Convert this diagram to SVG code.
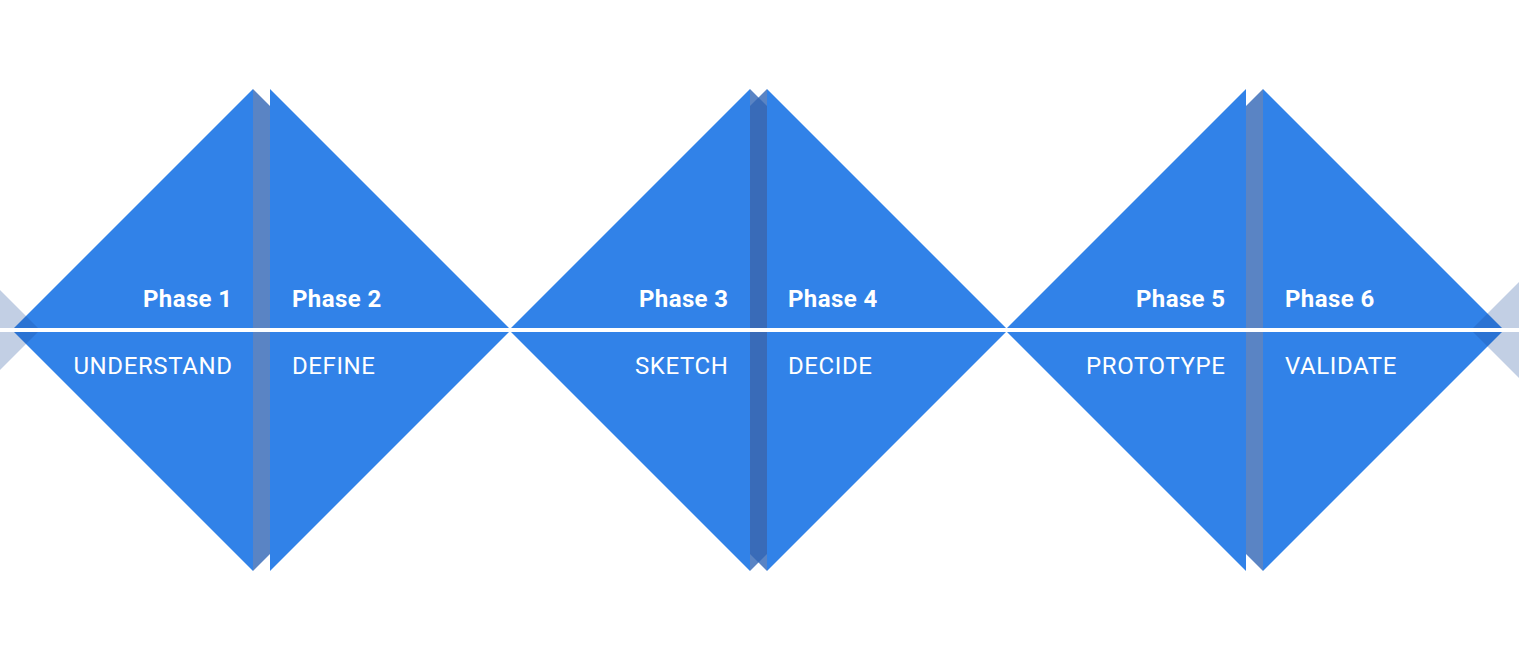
<svg xmlns="http://www.w3.org/2000/svg" width="1519" height="664" viewBox="0 0 1519 664">
  <style>
    .tri { fill: #3182E8; }
    .fold { fill: #3165B5; fill-opacity: 0.8; }
    .ghost { fill: #1F4E9A; fill-opacity: 0.27; }
    .ph { font-family: Roboto, "Liberation Sans", sans-serif; font-weight: 700; font-size: 24px; letter-spacing: 0.4px; fill: #FFFFFF; }
    .nm { font-family: Roboto, "Liberation Sans", sans-serif; font-weight: 400; font-size: 24px; letter-spacing: 0.6px; fill: #FFFFFF; }
    .end { text-anchor: end; }
  </style>
  <rect x="0" y="0" width="1519" height="664" fill="#FFFFFF"/>

  <g id="phase1">
    <polygon class="tri" points="12,330 253,89 253,571"/>
    <text class="ph end" x="232.5" y="307">Phase 1</text>
    <text class="nm end" x="232.5" y="374">UNDERSTAND</text>
  </g>
  <g id="phase2">
    <polygon class="tri" points="270,89 511,330 270,571"/>
    <text class="ph" x="292" y="307">Phase 2</text>
    <text class="nm" x="292" y="374">DEFINE</text>
  </g>
  <g id="phase3">
    <polygon class="tri" points="509,330 750,89 750,571"/>
    <text class="ph end" x="728.5" y="307">Phase 3</text>
    <text class="nm end" x="728.5" y="374">SKETCH</text>
  </g>
  <g id="phase4">
    <polygon class="tri" points="767,89 1008,330 767,571"/>
    <text class="ph" x="788" y="307">Phase 4</text>
    <text class="nm" x="788" y="374">DECIDE</text>
  </g>
  <g id="phase5">
    <polygon class="tri" points="1005,330 1246,89 1246,571"/>
    <text class="ph end" x="1225.5" y="307">Phase 5</text>
    <text class="nm end" x="1225.5" y="374">PROTOTYPE</text>
  </g>
  <g id="phase6">
    <polygon class="tri" points="1263,89 1504,330 1263,571"/>
    <text class="ph" x="1285" y="307">Phase 6</text>
    <text class="nm" x="1285" y="374">VALIDATE</text>
  </g>

  <g id="folds">
    <polygon class="fold" points="253,89 270,106 270,554 253,571"/>
    <polygon class="fold" points="750,89 767,106 767,554 750,571"/>
    <polygon class="fold" points="767,89 767,571 750,554 750,106"/>
    <polygon class="fold" points="1263,89 1263,571 1246,554 1246,106"/>
  </g>

  <g id="edge-ghosts">
    <polygon class="ghost" points="-201,89 40,330 -201,571"/>
    <polygon class="ghost" points="1712,89 1471,330 1712,571"/>
  </g>

  <g id="connectors">
    <rect x="0" y="328" width="1519" height="4" fill="#FFFFFF"/>
  </g>
</svg>
